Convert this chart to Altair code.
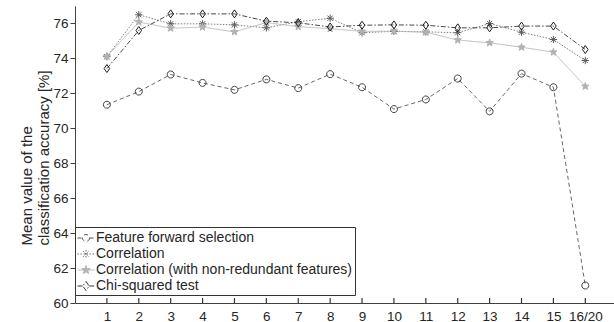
import altair as alt
import pandas as pd

# ---------------- data ----------------
x_ticks = list(range(1, 17))
x_labels = ["1", "2", "3", "4", "5", "6", "7", "8", "9", "10", "11", "12", "13", "14", "15", "16/20"]
y_ticks = [60, 62, 64, 66, 68, 70, 72, 74, 76]

series_names = [
    "Feature forward selection",
    "Correlation",
    "Correlation (with non-redundant features)",
    "Chi-squared test",
]
ffs = [71.35, 72.1, 73.08, 72.6, 72.2, 72.8, 72.3, 73.1, 72.35, 71.1, 71.65, 72.85, 70.97, 73.13, 72.35, 61.0]
corr = [74.1, 76.5, 75.98, 75.98, 75.92, 75.75, 76.1, 76.3, 75.47, 75.55, 75.52, 75.47, 76.0, 75.5, 75.08, 73.88]
corr_nr = [74.12, 76.08, 75.73, 75.79, 75.52, 76.05, 75.82, 75.7, 75.55, 75.56, 75.5, 75.05, 74.89, 74.64, 74.36, 72.4]
chi = [73.42, 75.6, 76.55, 76.55, 76.55, 76.13, 76.04, 75.8, 75.9, 75.92, 75.9, 75.75, 75.75, 75.85, 75.85, 74.51]

rows = []
for name, vals in zip(series_names, [ffs, corr, corr_nr, chi]):
    for xv, v in zip(x_ticks, vals):
        rows.append({"series": name, "x": xv, "value": v})
df = pd.DataFrame(rows)
tick_df = pd.DataFrame({"x": x_ticks})

# ---------------- styles ----------------
line_colors = ["#555555", "#727272", "#b4b4b4", "#333333"]
marker_colors = ["#404040", "#5c5c5c", "#b0b0b0", "#1e1e1e"]
marker_fills = ["transparent", "transparent", "#b4b4b4", "transparent"]
dashes = [[4, 3], [1.5, 1.5], [1, 0], [5, 2, 1.5, 2]]
marker_sizes = [49, 64, 90, 81]

marker_paths = [
    "M1,0A1,1,0,1,1,-1,0A1,1,0,1,1,1,0Z",
    "M-1,0L1,0M0,-1L0,1M-0.71,-0.71L0.71,0.71M-0.71,0.71L0.71,-0.71",
    "M0,-1L0.235,-0.324L0.951,-0.309L0.38,0.124L0.588,0.809L0,0.4L-0.588,0.809L-0.38,0.124L-0.951,-0.309L-0.235,-0.324Z",
    "M0,-1L0.7,0L0,1L-0.7,0Z",
]
legend_paths = [
    "M-1,0L-0.41,0M0.41,0L1,0M0.41,0A0.41,0.41,0,1,1,-0.41,0A0.41,0.41,0,1,1,0.41,0",
    "M-1,0L1,0M0,-0.47L0,0.47M-0.33,-0.33L0.33,0.33M-0.33,0.33L0.33,-0.33",
    "M-1,0L1,0M0,-0.53L0.125,-0.172L0.504,-0.164L0.201,0.066L0.312,0.429L0,0.212L-0.312,0.429L-0.201,0.066L-0.504,-0.164L-0.125,-0.172Z",
    "M-1,0L-0.37,0M0.37,0L1,0M0,-0.53L0.37,0L0,0.53L-0.37,0Z",
]

W, H = 539, 297
FONT = "Liberation Sans"

label_expr = "{" + ",".join(f"'{v}':'{l}'" for v, l in zip(x_ticks, x_labels)) + "}[datum.value]"

x_axis = alt.Axis(values=x_ticks, labelExpr=label_expr, ticks=False, tickSize=0,
                  labelPadding=6, grid=False, title=None, labelFontSize=13.5,
                  labelOverlap=False, labelFlush=False, tickCount=16)
y_axis = alt.Axis(
    values=y_ticks, grid=False, tickSize=5, labelPadding=2, labelFontSize=13.5,
    labelOverlap=False, labelFlush=False, tickCount=9,
    title=["Mean value of the", "classification accuracy [%]"],
    titleFontSize=15, titleFontWeight="normal", titleAlign="left",
    titleAngle=270, titleBaseline="bottom", titleX=-41, titleY=239,
    titleLineHeight=17, titleColor="#262626",
)
x_scale = alt.Scale(domain=[0, 16.9], nice=False, zero=False)
y_scale = alt.Scale(domain=[60, 77], nice=False, zero=False)

def xe():
    return alt.X("x:Q", scale=x_scale, axis=x_axis)

def ye():
    return alt.Y("value:Q", scale=y_scale, axis=y_axis)

dom = series_names

lines = alt.Chart(df).mark_line(strokeWidth=0.9).encode(
    x=xe(),
    y=ye(),
    stroke=alt.Stroke("series:N", scale=alt.Scale(domain=dom, range=line_colors), legend=None),
    strokeDash=alt.StrokeDash("series:N", scale=alt.Scale(domain=dom, range=dashes), legend=None),
    detail="series:N",
)

markers = alt.Chart(df).mark_point(filled=True, opacity=1, strokeWidth=1).encode(
    x=xe(),
    y=ye(),
    shape=alt.Shape("series:N", scale=alt.Scale(domain=dom, range=marker_paths), legend=None),
    stroke=alt.Stroke("series:N", scale=alt.Scale(domain=dom, range=marker_colors), legend=None),
    fill=alt.Fill("series:N", scale=alt.Scale(domain=dom, range=marker_fills), legend=None),
    size=alt.Size("series:N", scale=alt.Scale(domain=dom, range=marker_sizes), legend=None),
)

xticks = alt.Chart(tick_df).mark_rule(color="#333333", strokeWidth=1.2).encode(
    x=xe(),
    y=alt.value(H),
    y2=alt.value(H - 5),
)

leg = alt.Legend(
    title=None, orient="none", legendX=0, legendY=221,
    strokeColor="#333333", fillColor="white", padding=2, rowPadding=0,
    symbolSize=289, symbolStrokeWidth=1, labelFontSize=14, labelOffset=1,
    labelLimit=400, labelFont=FONT, labelColor="#262626", symbolOpacity=1,
)

legend_layer = alt.Chart(df).transform_filter("false").mark_point(filled=True, opacity=1, strokeWidth=1).encode(
    x=xe(),
    y=ye(),
    shape=alt.Shape("series:N", scale=alt.Scale(domain=dom, range=legend_paths), legend=leg),
    stroke=alt.Stroke("series:N", scale=alt.Scale(domain=dom, range=line_colors), legend=leg),
    fill=alt.Fill("series:N", scale=alt.Scale(domain=dom, range=marker_fills), legend=leg),
    strokeDash=alt.StrokeDash("series:N", scale=alt.Scale(domain=dom, range=dashes), legend=leg),
)

chart = (
    alt.layer(lines, markers, xticks, legend_layer)
    .resolve_scale(shape="independent", stroke="independent", fill="independent",
                   strokeDash="independent", size="independent")
    .properties(
        width=W, height=H,
        padding={"left": 75, "top": 6, "right": 0, "bottom": 19},
        autosize=alt.AutoSizeParams(type="none"),
        background="white",
    )
    .configure_view(stroke=None)
    .configure_axis(
        domainColor="#404040", domainWidth=1, tickColor="#404040", tickWidth=1,
        labelColor="#262626", labelFont=FONT, titleFont=FONT,
    )
)

chart.save("out.html", embed_options={"renderer": "svg", "actions": False})
